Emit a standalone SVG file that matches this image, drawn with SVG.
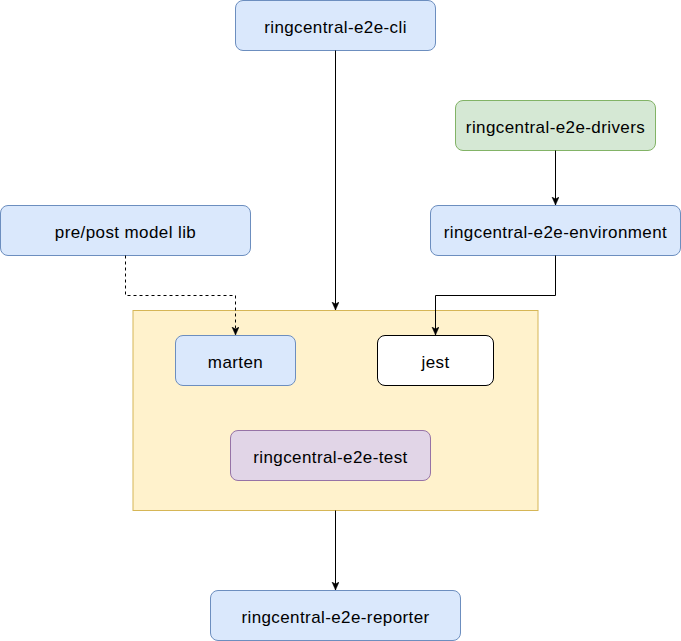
<svg xmlns="http://www.w3.org/2000/svg" width="681" height="641" viewBox="0 0 681 641">
<defs>
<style>
.lbl{font-family:"Liberation Sans",Helvetica,Arial,sans-serif;font-size:17px;letter-spacing:0.4px;fill:#000;text-anchor:middle}
.blue{fill:#dae8fc;stroke:#6c8ebf;stroke-width:1}
.green{fill:#d5e8d4;stroke:#82b366;stroke-width:1}
.purple{fill:#e1d5e7;stroke:#9673a6;stroke-width:1}
.yellow{fill:#fff2cc;stroke:#d6b656;stroke-width:1}
.white{fill:#ffffff;stroke:#000000;stroke-width:1}
.edge{fill:none;stroke:#000;stroke-width:1}
.dash{stroke-dasharray:3 3}
</style>
<marker id="arr" markerUnits="userSpaceOnUse" markerWidth="10" markerHeight="10" refX="8" refY="3.5" orient="auto">
<path d="M0,0 L8,3.5 L0,7 L2,3.5 Z" fill="#000" stroke="#000" stroke-width="0.5"/>
</marker>
</defs>
<rect width="681" height="641" fill="#ffffff"/>
<g id="container">
<rect class="yellow" x="133" y="310.5" width="405" height="200"/>
</g>
<g id="cli">
<rect class="blue" x="235.5" y="0.5" width="200" height="50" rx="7.5"/>
<text class="lbl" x="335.5" y="32.5">ringcentral-e2e-cli</text>
</g>
<g id="drivers">
<rect class="green" x="455.5" y="100.5" width="200" height="50" rx="7.5"/>
<text class="lbl" x="555.5" y="132.5">ringcentral-e2e-drivers</text>
</g>
<g id="prepost">
<rect class="blue" x="0.5" y="205.5" width="250" height="50" rx="7.5"/>
<text class="lbl" x="125.5" y="237.5">pre/post model lib</text>
</g>
<g id="environment">
<rect class="blue" x="430.5" y="205.5" width="250" height="50" rx="7.5"/>
<text class="lbl" x="555.5" y="237.5">ringcentral-e2e-environment</text>
</g>
<g id="marten">
<rect class="blue" x="175.5" y="335.5" width="120" height="50" rx="7.5"/>
<text class="lbl" x="235.5" y="367.5">marten</text>
</g>
<g id="jest">
<rect class="white" x="377.5" y="335.5" width="116" height="50" rx="7.5"/>
<text class="lbl" x="435.5" y="367.5">jest</text>
</g>
<g id="test">
<rect class="purple" x="230.5" y="430.5" width="200" height="50" rx="7.5"/>
<text class="lbl" x="330.5" y="462.5">ringcentral-e2e-test</text>
</g>
<g id="reporter">
<rect class="blue" x="210.5" y="590.5" width="250" height="50" rx="7.5"/>
<text class="lbl" x="335.5" y="622.5">ringcentral-e2e-reporter</text>
</g>
<g id="connectors">
<path class="edge" d="M335.5,50.5 L335.5,310" marker-end="url(#arr)"/>
<path class="edge" d="M555.5,150.5 L555.5,205" marker-end="url(#arr)"/>
<path class="edge dash" d="M125.5,255.5 L125.5,295.5 L235.5,295.5 L235.5,335" marker-end="url(#arr)"/>
<path class="edge" d="M555.5,255.5 L555.5,295.5 L435.5,295.5 L435.5,335" marker-end="url(#arr)"/>
<path class="edge" d="M335.5,510.5 L335.5,590" marker-end="url(#arr)"/>
</g>
</svg>
